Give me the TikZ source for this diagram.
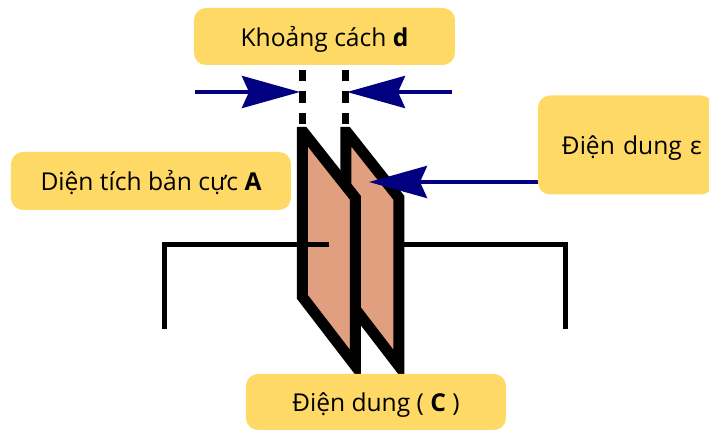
\documentclass[tikz,border=0pt]{standalone}
\usepackage{fontspec}
\setmainfont{Open Sans}
\usetikzlibrary{arrows.meta}
\definecolor{labelyellow}{HTML}{FFD966}
\definecolor{platefill}{HTML}{E09F7E}
\definecolor{arrownavy}{HTML}{000080}
\tikzset{
  labelbox/.style={fill=labelyellow,rounded corners=0.12cm,inner sep=0pt,text height=0.24cm,text depth=0.04cm,font=\fontsize{7}{8}\selectfont},
  plate/.style={draw=black,fill=platefill,line width=0.11cm},
  wire/.style={line width=0.05cm},
  gapmark/.style={line width=0.07cm,dash pattern=on 0.115cm off 0.10cm},
  navyarrow/.style={draw=arrownavy,line width=0.04cm,-{Stealth[length=0.58cm,width=0.32cm,inset=0.07cm]}}
}
\begin{document}
\begin{tikzpicture}
  \useasboundingbox (0,0) rectangle (7.09,4.30);
  % plates
  \draw[plate] (3.46,2.975) -- (3.472,2.975) -- (3.99,2.32) -- (3.99,0.64) -- (3.46,1.33) -- cycle;
  \draw[plate] (3.025,2.975) -- (3.037,2.975) -- (3.555,2.32) -- (3.555,0.64) -- (3.025,1.33) -- cycle;
  % leads
  \draw[wire] (3.29,1.85) -- (1.65,1.85) -- (1.65,1.01);
  \draw[wire] (4.04,1.85) -- (5.66,1.85) -- (5.66,1.01);
  % gap marks
  \draw[gapmark] (3.025,3.60) -- (3.025,3.00);
  \draw[gapmark] (3.46,3.60) -- (3.46,3.00);
  % arrows
  \coordinate (gapL) at (3.00,3.38);
  \coordinate (gapR) at (3.47,3.38);
  \coordinate (startL) at (1.95,3.38);
  \coordinate (startR) at (4.52,3.38);
  \coordinate (dielTip) at (3.69,2.48);
  \coordinate (dielStart) at (5.40,2.48);
  \draw[navyarrow] (startL) -- (gapL);
  \draw[navyarrow] (startR) -- (gapR);
  \draw[navyarrow] (dielStart) -- (dielTip);
  % labels
  \node[labelbox,minimum width=2.61cm,minimum height=0.57cm] (gap) at (3.245,3.935) {Khoảng cách \textbf{d}};
  \node[labelbox,minimum width=2.80cm,minimum height=0.58cm] (area) at (1.51,2.49) {Diện tích bản cực \textbf{A}};
  \node[labelbox,minimum width=1.75cm,minimum height=0.99cm,text width=1.75cm,align=left] (perm) at (6.255,2.85) {\hspace{0.24cm}Điện dung ε};
  \node[labelbox,minimum width=2.60cm,minimum height=0.56cm] (cap) at (3.76,0.28) {Điện dung ( \textbf{C} )};
\end{tikzpicture}
\end{document}
